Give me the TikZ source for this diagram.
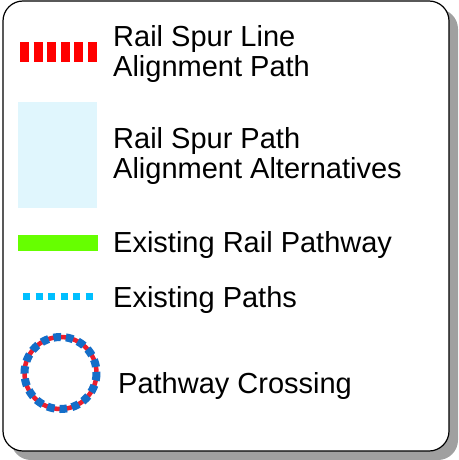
\documentclass[tikz,border=0pt]{standalone}
\usepackage{fontspec}
\setmainfont{Liberation Sans}
\definecolor{railred}{RGB}{255,0,0}
\definecolor{altblue}{RGB}{224,246,253}
\definecolor{railgreen}{RGB}{102,255,0}
\definecolor{pathblue}{RGB}{0,191,255}
\definecolor{crossblue}{RGB}{20,110,200}
\definecolor{crossred}{RGB}{235,30,45}
\definecolor{shadowgray}{RGB}{160,160,160}
\tikzset{
  lbl/.style={anchor=base west, inner sep=0pt, font=\fontsize{29}{29}\selectfont},
}
\begin{document}
\begin{tikzpicture}[x=1pt,y=-1pt]
\useasboundingbox (0,0) rectangle (458,460);
% shadow
\fill[shadowgray, rounded corners=20pt] (11,9) rectangle (458,460);
% frame
\draw[black, line width=1.2pt, fill=white, rounded corners=20pt] (3,1) rectangle (449,451);
% 1: rail spur line
\coordinate (r1a) at (20,52);
\coordinate (r1b) at (97,52);
\draw[railred, line width=20pt, dash pattern=on 9pt off 4.6pt] (r1a) -- (r1b);
\node[lbl] (t1a) at (113,47) {Rail Spur Line};
\node[lbl] (t1b) at (113,76) {Alignment Path};
% 2: alternatives
\fill[altblue] (18,102) rectangle (97,208);
\node[lbl] (t2a) at (113,148) {Rail Spur Path};
\node[lbl] (t2b) at (113,178) {Alignment Alternatives};
% 3: existing rail pathway
\fill[railgreen] (18,235) rectangle (98,251);
\node[lbl] (t3) at (113,252) {Existing Rail Pathway};
% 4: existing paths
\coordinate (p4a) at (18,296.5);
\coordinate (p4b) at (96,296.5);
\draw[pathblue, line width=7pt, dash pattern=on 7pt off 5.5pt, dash phase=-5pt] (p4a) -- (p4b);
\node[lbl] (t4) at (113,307) {Existing Paths};
% 5: pathway crossing
\coordinate (c5) at (60.5,373);
\draw[crossred, line width=4.5pt] (c5) circle[radius=36];
\draw[crossblue, line width=8pt, dash pattern=on 7.5pt off 5pt] (c5) circle[radius=36];
\node[lbl] (t5) at (118,393) {Pathway Crossing};
\end{tikzpicture}
\end{document}
